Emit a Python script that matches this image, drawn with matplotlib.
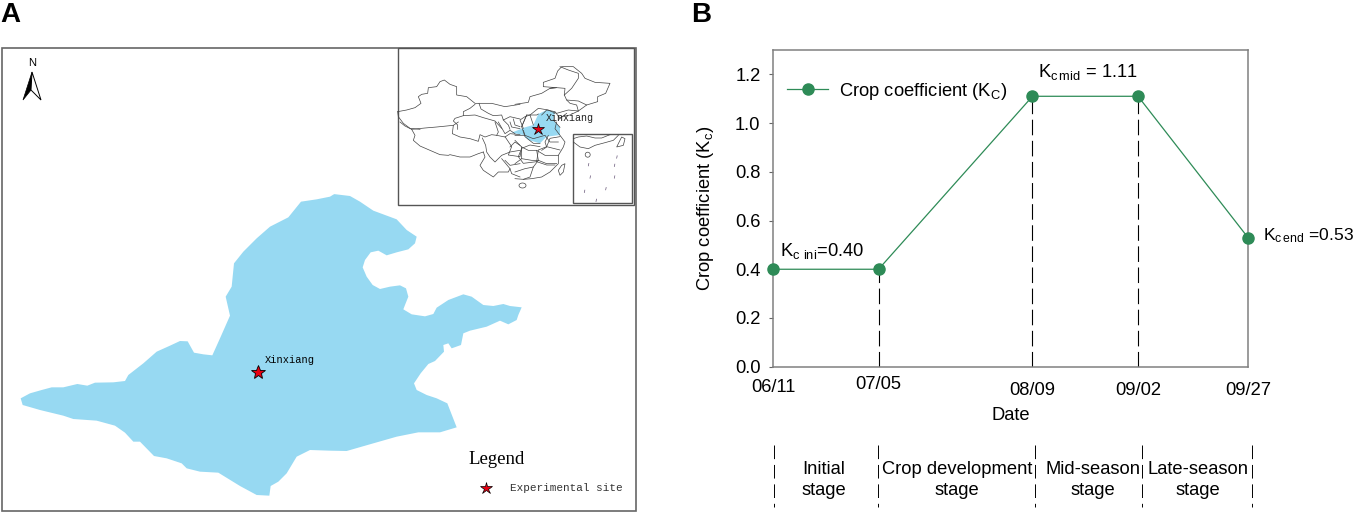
import matplotlib
matplotlib.use('Agg')
import matplotlib.pyplot as plt
from matplotlib.patches import Polygon, Rectangle, Ellipse

plt.rcParams['font.family'] = 'Liberation Sans'
plt.rcParams['mathtext.fontset'] = 'custom'
plt.rcParams['mathtext.rm'] = 'Liberation Sans'
plt.rcParams['mathtext.default'] = 'regular'

W, H = 1358, 517
FS = 13.2

# panel B values
days = [0, 24, 59, 83, 108]
dates = ['06/11', '07/05', '08/09', '09/02', '09/27']
kc = [0.40, 0.40, 1.11, 1.11, 0.53]
yticks = [0.0, 0.2, 0.4, 0.6, 0.8, 1.0, 1.2]
stage_names = ['Initial\nstage', 'Crop development\nstage', 'Mid-season\nstage', 'Late-season\nstage']
stage_x = [824, 957, 1093, 1198]
stage_edges = [774, 877.5, 1035, 1142, 1252]
date_pads = [8.5, 6.5, 11, 11, 11]

# outlines in crops scaled 3x
west_top = [(62, 655), (90, 640), (125, 630), (155, 622), (190, 622), (232, 612), (262, 617), (285, 608),
            (340, 607), (375, 603), (385, 585), (430, 550), (470, 515), (510, 497), (540, 483), (563, 484),
            (582, 518), (610, 523), (637, 526), (660, 475), (690, 407), (677, 350), (695, 320), (702, 250),
            (730, 215), (770, 175), (810, 140), (865, 112), (903, 65), (950, 58), (990, 50), (1003, 42)]
east_side = [(100, 42), (150, 48), (180, 65), (220, 92), (290, 118), (320, 150), (350, 170), (345, 190),
             (325, 208), (290, 217), (260, 226), (235, 212), (212, 217), (195, 240), (188, 262), (200, 290),
             (218, 315), (240, 327), (270, 320), (300, 316), (318, 325), (325, 350), (315, 375), (310, 388),
             (335, 403), (375, 409), (400, 402), (410, 383), (445, 360), (490, 343), (515, 350), (550, 375),
             (580, 378), (610, 372), (630, 378), (665, 382), (655, 405), (650, 420), (625, 433), (600, 422),
             (560, 440), (510, 452), (490, 460), (483, 495), (455, 505), (445, 490), (430, 495), (432, 515),
             (405, 543), (385, 552), (362, 580), (342, 610), (350, 630), (380, 645), (410, 655), (442, 670),
             (470, 742), (420, 757), (355, 757), (290, 770), (220, 790), (140, 813), (90, 812)]
west_bottom = [(930, 810), (890, 830), (860, 880), (835, 905), (812, 918), (808, 947), (770, 945), (720, 918),
               (655, 878), (600, 875), (560, 865), (545, 850), (500, 835), (462, 828), (420, 785), (400, 785),
               (375, 758), (345, 737), (290, 722), (220, 717), (190, 707), (120, 690), (68, 675)]

nw_lines = [
    [(8, 200), (35, 195), (60, 188), (78, 175), (70, 155), (80, 148), (98, 145), (100, 128), (125, 125),
     (135, 110), (148, 105), (165, 118), (185, 125), (185, 150), (215, 155), (240, 175), (252, 175),
     (290, 175), (330, 185), (375, 178)],
    [(240, 178), (225, 190), (205, 200), (205, 212), (180, 220), (175, 228), (188, 240), (188, 253)],
    [(205, 212), (240, 210), (265, 218), (300, 228), (320, 250)],
    [(252, 175), (258, 192), (280, 205), (295, 212), (320, 210), (325, 225), (345, 215), (375, 222)],
    [(8, 200), (10, 215), (25, 235), (45, 250), (75, 253)],
    [(325, 225), (340, 240), (345, 253)],
    [(355, 222), (360, 240), (375, 245)],
]
sw_lines = [
    [(15, 0), (30, 12), (50, 22), (60, 40), (55, 55), (75, 72), (105, 85), (135, 98), (160, 100), (165, 98),
     (195, 105), (225, 105), (250, 95), (265, 90)],
    [(50, 22), (90, 18), (125, 15), (175, 10), (190, 0)],
    [(175, 10), (172, 35), (195, 45), (225, 50), (250, 58), (255, 38), (270, 45), (290, 38), (305, 40),
     (330, 45), (345, 35), (375, 38)],
    [(262, 48), (272, 70), (275, 90), (285, 105), (300, 120), (320, 100), (345, 90), (375, 85)],
    [(265, 90), (270, 105), (255, 130), (265, 145), (295, 165), (310, 150), (340, 150), (345, 140), (320, 110)],
    [(345, 140), (350, 155), (375, 165)],
    [(330, 115), (345, 130), (375, 125)],
    [(345, 75), (360, 60), (375, 70)],
    [(300, 0), (310, 30), (305, 40)],
    [(310, 0), (330, 35), (345, 25), (360, 35)],
    [(345, 0), (350, 15), (375, 20)],
]
ne_lines = [
    [(0, 178), (40, 172), (45, 155), (80, 145), (105, 130), (125, 128), (85, 125), (85, 112), (120, 100),
     (128, 78), (140, 65), (175, 65), (200, 85), (210, 100), (240, 112), (285, 115), (272, 145), (248, 155),
     (248, 170), (215, 180), (190, 198)],
    [(148, 150), (170, 130), (190, 100), (190, 85), (160, 75), (135, 65)],
    [(148, 150), (155, 165), (190, 168), (215, 180)],
    [(155, 165), (165, 175), (185, 180), (190, 198), (160, 195), (125, 205), (110, 200), (100, 195), (70, 190),
     (45, 210), (30, 215), (15, 225), (25, 250)],
    [(105, 130), (125, 128), (150, 130), (148, 150)],
    [(190, 198), (165, 210), (140, 215), (130, 225)],
    [(45, 210), (55, 240)],
]
se_lines = [
    [(125, 0), (120, 20), (135, 40), (150, 60), (145, 75), (130, 100), (130, 125), (105, 150), (80, 165),
     (50, 170), (25, 172), (0, 170)],
    [(20, 75), (40, 85), (65, 85), (90, 100), (130, 100)],
    [(65, 85), (70, 115), (95, 125), (125, 125)],
    [(70, 115), (55, 135), (45, 165), (25, 172)],
    [(20, 75), (20, 110), (50, 115), (70, 115)],
    [(0, 55), (20, 75)],
    [(0, 40), (30, 40), (25, 25)],
    [(30, 40), (55, 50), (90, 40), (105, 60), (130, 60)],
    [(100, 40), (90, 60), (95, 75), (80, 85)],
    [(0, 125), (20, 110)],
    [(0, 150), (30, 140), (55, 135)],
]
# same crop as the first look at the inset
mid_lines = [
    [(345, 290), (365, 320), (355, 345), (390, 350), (395, 325), (420, 315), (450, 320)],
    [(395, 325), (385, 350), (400, 370), (440, 365), (470, 375), (495, 375)],
    [(440, 365), (445, 330), (470, 320), (510, 330)],
    [(470, 320), (480, 295), (510, 290)],
    [(395, 260), (410, 225), (440, 225), (445, 222)],
    [(410, 225), (395, 260), (405, 290), (430, 310), (450, 310)],
    [(455, 225), (470, 210), (495, 215), (510, 235), (530, 220)],
    [(510, 262), (490, 240)],
]
taiwan = [(140, 130), (150, 125), (145, 150), (135, 160), (130, 145)]
shade = [(365, 278), (405, 262), (430, 255), (445, 222), (470, 210), (495, 215), (490, 240), (510, 262),
         (510, 285), (470, 290), (450, 310), (415, 300), (400, 285)]
small_coast = [[(175, 50), (190, 45), (215, 42), (240, 48), (260, 48), (285, 38)],
               [(175, 60), (195, 75), (220, 80), (240, 70), (270, 62), (295, 55), (310, 40)]]
small_taiwan = [(305, 75), (320, 45), (330, 50), (325, 70)]
small_dashes = [(220, 128), (305, 105), (298, 130), (225, 165), (298, 165), (208, 208), (272, 200), (243, 235)]


def from_crop(points, x0, y0):
    return [(x0 + p[0] / 3, y0 + p[1] / 3) for p in points]


fig = plt.figure(figsize=(W / 100, H / 100), dpi=100)

# whole figure in pixels, for panel A and the loose labels
bg = fig.add_axes([0, 0, 1, 1])
bg.set_xlim(0, W)
bg.set_ylim(H, 0)
bg.axis('off')
bg.set_zorder(5)

bg.text(0, 15, 'A', fontsize=20, fontweight='bold', va='center')
bg.text(691, 15, 'B', fontsize=20, fontweight='bold', va='center')

bg.add_patch(Rectangle((1.5, 47.5), 634, 463, fc='none', ec='#666666', lw=1.2))

region = from_crop(west_top, 0, 180) + from_crop(east_side, 300, 180) + from_crop(west_bottom, 0, 180)
bg.add_patch(Polygon(region, fc='#97D9F2', ec='none'))
bg.plot(258, 372, marker='*', ms=10, mfc='#E60012', mec='black', mew=0.6)
bg.text(265, 360, 'Xinxiang', fontsize=7.5, family='Liberation Mono', va='center')
bg.text(468, 459, 'Legend', fontsize=13.5, family='Liberation Serif', va='center')
bg.plot(486, 488, marker='*', ms=9, mfc='#E60012', mec='black', mew=0.5)
bg.text(510.5, 488, 'Experimental site', fontsize=7.9, family='Liberation Mono', va='center', color='#333333')

# north arrow
bg.text(32, 63, 'N', fontsize=8, ha='center', va='center')
bg.add_patch(Polygon([(32, 72), (23, 100), (31, 90)], fc='black', ec='black', lw=0.5))
bg.add_patch(Polygon([(32, 72), (41, 100), (31, 90)], fc='white', ec='black', lw=0.7))

# inset map
bg.add_patch(Rectangle((397.5, 47.5), 236.5, 157, fc='white', ec='#555555', lw=1))
bg.add_patch(Polygon(from_crop(shade, 390, 40), fc='#97D9F2', ec='none'))
for lines, x0, y0 in [(nw_lines, 395, 45), (sw_lines, 395, 122), (ne_lines, 515, 45), (se_lines, 515, 122),
                      (mid_lines, 390, 40)]:
    for line in lines:
        pts = from_crop(line, x0, y0)
        bg.plot([p[0] for p in pts], [p[1] for p in pts], color='#444444', lw=0.5)
bg.add_patch(Polygon(from_crop(taiwan, 515, 122), fc='white', ec='#444444', lw=0.5))
bg.add_patch(Ellipse((522.5, 185.5), 7, 5, fc='white', ec='#444444', lw=0.5))
bg.plot(537.7, 129, marker='*', ms=9, mfc='#E60012', mec='black', mew=0.5)
bg.text(546, 118, 'Xinxiang', fontsize=7.2, family='Liberation Mono', va='center', color='#222222')

# small box with the southern islands
bg.add_patch(Rectangle((573, 134), 59, 69, fc='white', ec='#555555', lw=1))
for line in small_coast:
    pts = from_crop(line, 515, 122)
    bg.plot([p[0] for p in pts], [p[1] for p in pts], color='#444444', lw=0.5)
bg.add_patch(Polygon(from_crop(small_taiwan, 515, 122), fc='white', ec='#444444', lw=0.5))
bg.add_patch(Ellipse((587.7, 154.7), 5, 5, fc='white', ec='#444444', lw=0.5))
for p in from_crop(small_dashes, 515, 122):
    bg.plot([p[0], p[0] + 0.5], [p[1] + 1.2, p[1] - 1.2], color='#665577', lw=0.5)

# panel B
left, right, top, bottom = 773, 1248, 50, 366.7
ax = fig.add_axes([left / W, 1 - bottom / H, (right - left) / W, (bottom - top) / H])
ax.plot(days, kc, color='#2E8B57', lw=0.9, marker='o', ms=8, mfc='#2E8B57', mec='#2E8B57',
        label='Crop coefficient (K$_{C}$)', clip_on=False, zorder=4)
ax.vlines(days[1:-1], 0, kc[1:-1], color='black', lw=0.8, linestyles=(0, (14, 5)))
ax.set_xlim(days[0], days[-1])
ax.set_ylim(0, 1.3)
ax.set_yticks(yticks)
ax.set_yticklabels(['%.1f' % v for v in yticks])
ax.set_xticks(days)
ax.set_xticklabels(dates)
ax.tick_params(axis='x', length=0, labelsize=FS)
ax.tick_params(axis='y', length=3, color='#666666', labelsize=FS, pad=6)
for tick, pad in zip(ax.xaxis.get_major_ticks(), date_pads):
    tick.set_pad(pad)
for side in ax.spines.values():
    side.set_color('#808080')
    side.set_linewidth(1.1)
ax.set_xlabel('Date', fontsize=FS, va='center')
ax.xaxis.set_label_coords(0.5, -(416 - bottom) / (bottom - top))
ax.set_ylabel('Crop coefficient (K$_{c}$)', fontsize=FS, va='center')
ax.yaxis.set_label_coords((705 - left) / (right - left), 0.5)
ax.legend(loc='center left', bbox_to_anchor=((787 - left) / (right - left), (bottom - 91) / (bottom - top)),
          frameon=False, fontsize=FS, borderpad=0, borderaxespad=0, handlelength=2.25, handletextpad=0.6)

bg.text(780, 251, 'K$_{c\\ ini}$=0.40', fontsize=FS, va='center')
bg.text(1038, 72, 'K$_{c\\,mid}$ = 1.11', fontsize=FS, va='center')
bg.text(1263, 236, 'K$_{c\\,end}$ =0.53', fontsize=12.6, va='center')

# growth stages under the axis
bg.vlines(stage_edges, 445, 507, color='black', lw=0.7, linestyles=(0, (14, 6)))
for name, x in zip(stage_names, stage_x):
    bg.text(x, 480, name, fontsize=FS, ha='center', va='center', linespacing=1.3)

fig.savefig('out.png', dpi=100, facecolor='white')
